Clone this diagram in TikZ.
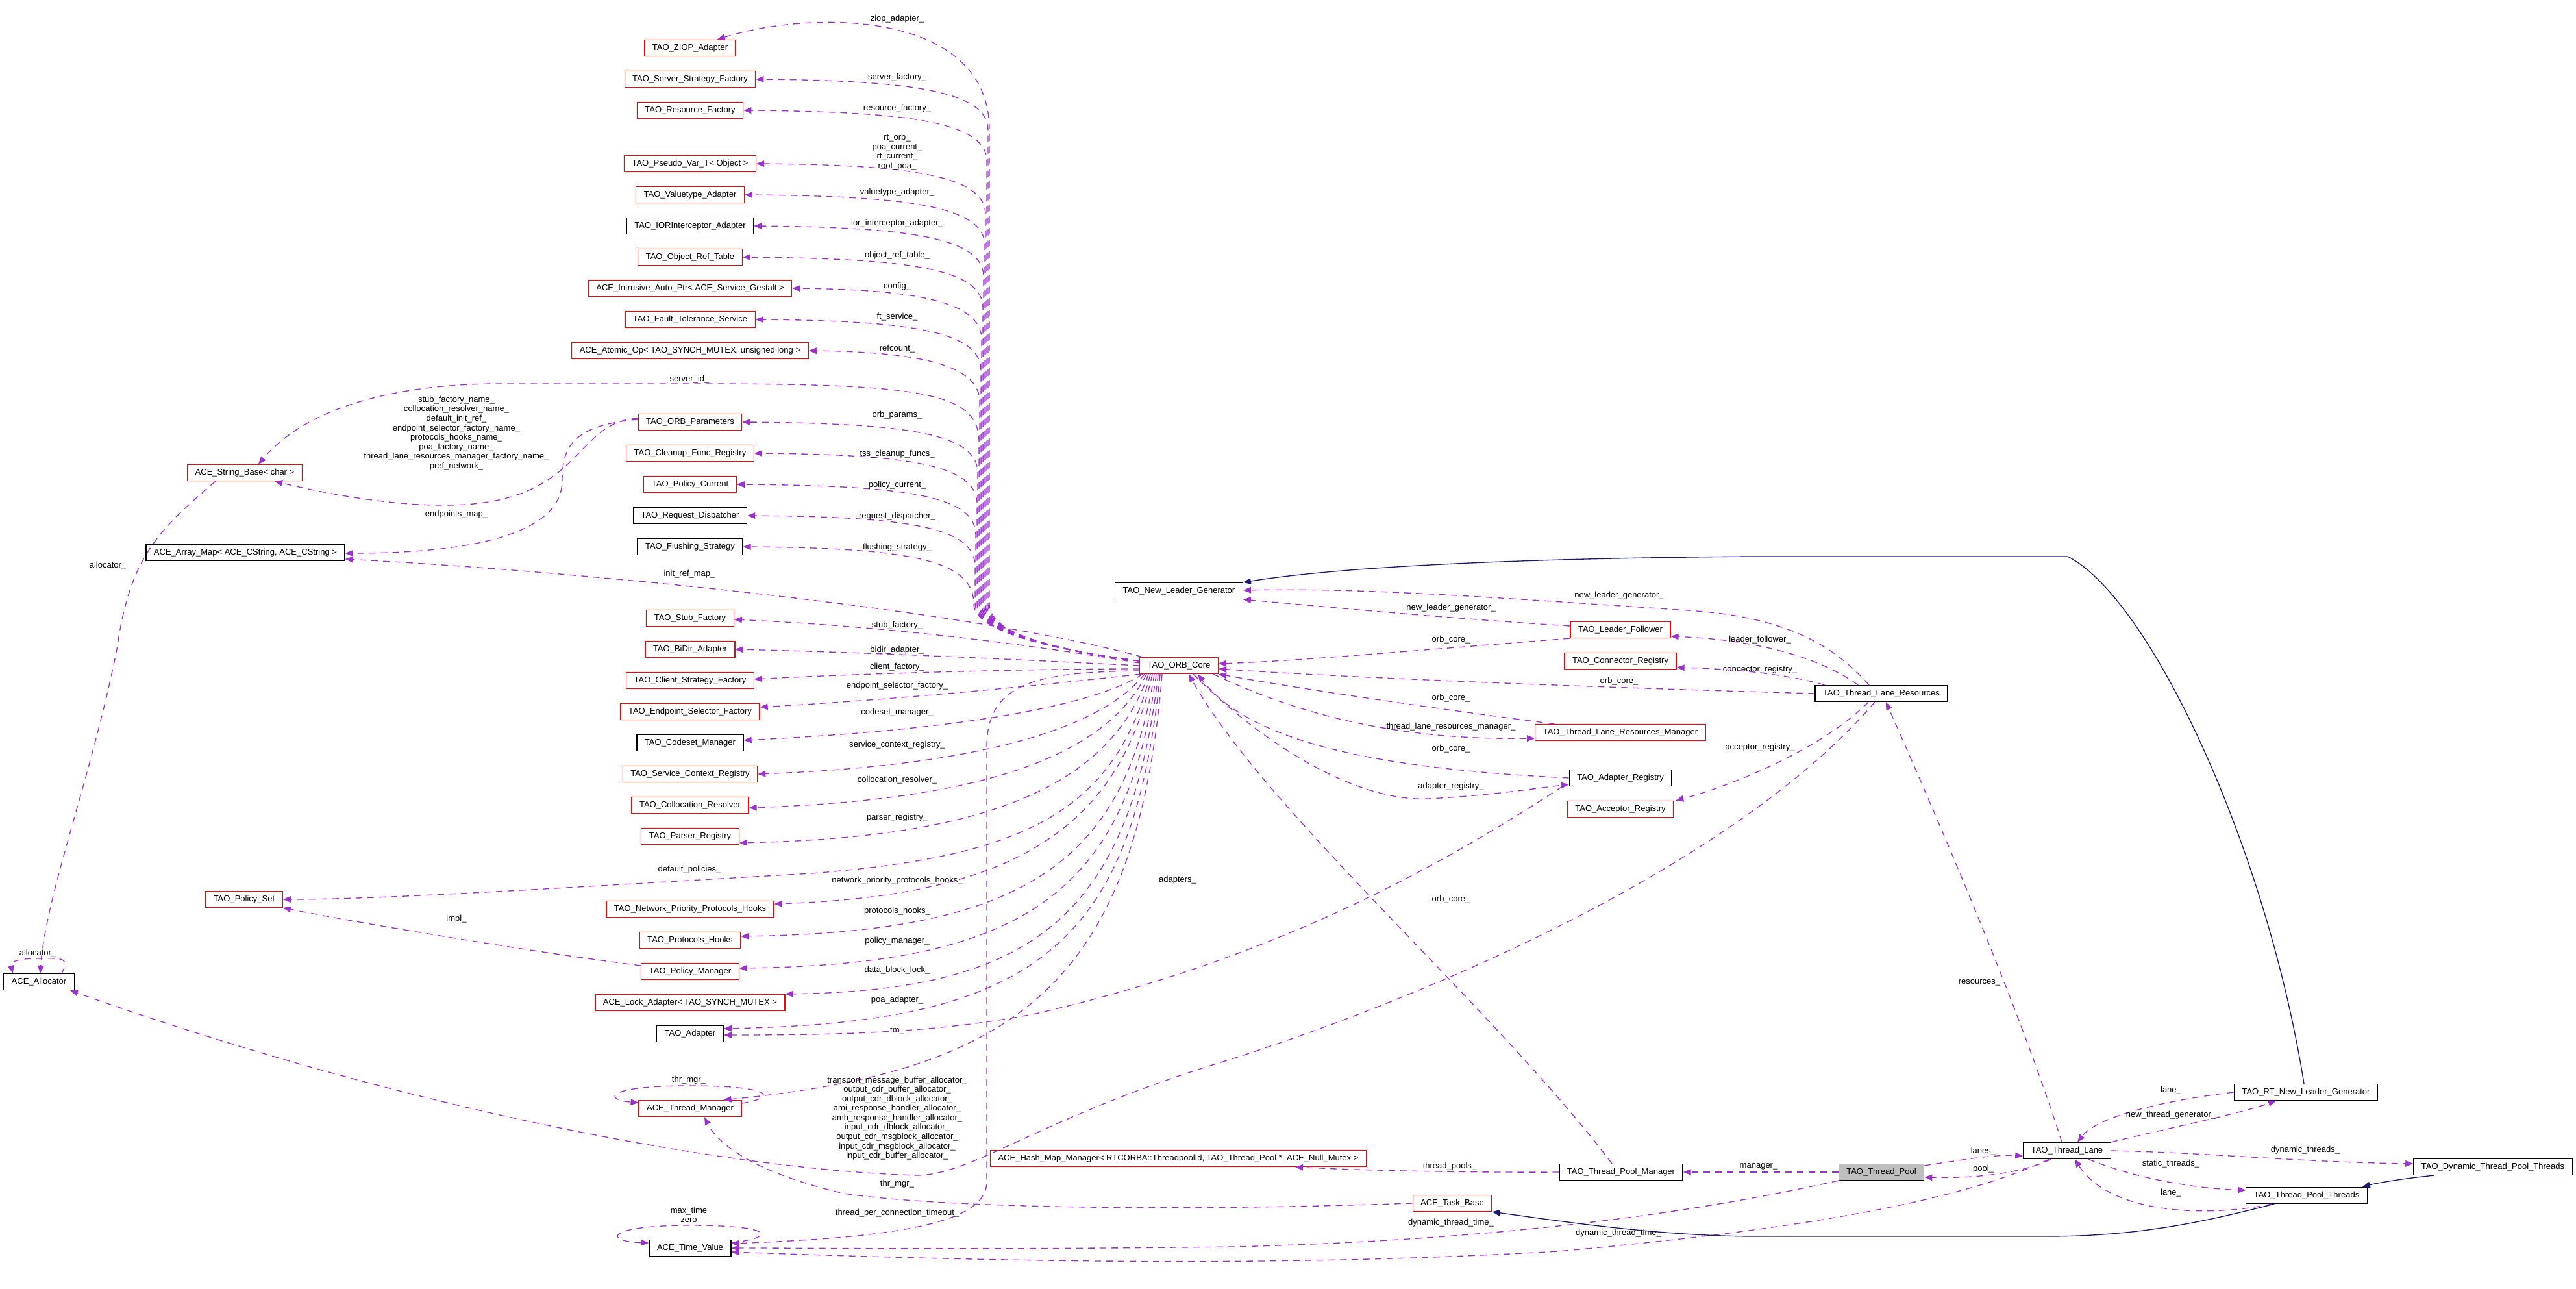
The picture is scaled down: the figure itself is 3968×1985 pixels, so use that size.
\documentclass[tikz,border=0pt]{standalone}
\usepackage{fontspec}
\newfontfamily\dxsans{Liberation Sans}
\usepackage{xcolor}
\usepackage{tikz}
\usetikzlibrary{arrows.meta, calc}
\definecolor{dxpurple}{HTML}{9A32CD}
\definecolor{dxnavy}{HTML}{191970}
\newcommand{\dxfont}{\dxsans\fontsize{3.7pt}{4.15pt}\selectfont}
\tikzset{
  cls/.style={draw=black, line width=0.35pt, fill=white, inner xsep=0.12cm, inner ysep=0pt, minimum height=0.25cm, font=\dxfont},
  redcls/.style={cls, draw=red},
  curcls/.style={cls, fill=black!25},
  lbl/.style={font=\dxfont, align=center, inner sep=0pt},
  use/.style={draw=dxpurple, line width=0.38pt, dash pattern=on 0.1cm off 0.08cm, -{Triangle[length=0.12cm,width=0.095cm]}},
  inh/.style={draw=dxnavy, line width=0.38pt, -{Triangle[length=0.12cm,width=0.095cm]}}
}
\begin{document}
\begin{tikzpicture}[x=0.01cm, y=-0.01cm]
        \useasboundingbox (0,0) rectangle (3968,1985);

        % left column
        \node[redcls] (ziop) at (1063,74) {TAO\_ZIOP\_Adapter};
        \node[redcls] (ssf) at (1063,122) {TAO\_Server\_Strategy\_Factory};
        \node[redcls] (rf) at (1063,170) {TAO\_Resource\_Factory};
        \node[redcls] (pvt) at (1063,252) {TAO\_Pseudo\_Var\_T< Object >};
        \node[redcls] (vta) at (1063,300) {TAO\_Valuetype\_Adapter};
        \node[cls] (iora) at (1063,348) {TAO\_IORInterceptor\_Adapter};
        \node[redcls] (ort) at (1063,396) {TAO\_Object\_Ref\_Table};
        \node[redcls] (iap) at (1063,444) {ACE\_Intrusive\_Auto\_Ptr< ACE\_Service\_Gestalt >};
        \node[redcls] (fts) at (1063,492) {TAO\_Fault\_Tolerance\_Service};
        \node[redcls] (aop) at (1063,540) {ACE\_Atomic\_Op< TAO\_SYNCH\_MUTEX, unsigned long >};
        \node[redcls] (orbp) at (1063,650) {TAO\_ORB\_Parameters};
        \node[redcls] (cfr) at (1063,698) {TAO\_Cleanup\_Func\_Registry};
        \node[redcls] (pc) at (1063,746) {TAO\_Policy\_Current};
        \node[cls] (rd) at (1063,794) {TAO\_Request\_Dispatcher};
        \node[cls] (fs) at (1063,842) {TAO\_Flushing\_Strategy};
        \node[redcls] (sf) at (1063,952) {TAO\_Stub\_Factory};
        \node[redcls] (bidir) at (1063,1000) {TAO\_BiDir\_Adapter};
        \node[redcls] (csf) at (1063,1048) {TAO\_Client\_Strategy\_Factory};
        \node[redcls] (esf) at (1063,1096) {TAO\_Endpoint\_Selector\_Factory};
        \node[cls] (csm) at (1063,1144) {TAO\_Codeset\_Manager};
        \node[redcls] (scr) at (1063,1192) {TAO\_Service\_Context\_Registry};
        \node[redcls] (cr) at (1063,1240) {TAO\_Collocation\_Resolver};
        \node[redcls] (pr) at (1063,1288) {TAO\_Parser\_Registry};
        \node[redcls] (npph) at (1063,1400) {TAO\_Network\_Priority\_Protocols\_Hooks};
        \node[redcls] (ph) at (1063,1448) {TAO\_Protocols\_Hooks};
        \node[redcls] (pm) at (1063,1496) {TAO\_Policy\_Manager};
        \node[redcls] (la) at (1063,1544) {ACE\_Lock\_Adapter< TAO\_SYNCH\_MUTEX >};
        \node[cls] (ada) at (1063,1592) {TAO\_Adapter};
        \node[redcls] (thm) at (1063,1707) {ACE\_Thread\_Manager};
        \node[cls] (tv) at (1063,1922) {ACE\_Time\_Value};

        % far left
        \node[redcls] (sb) at (377,728) {ACE\_String\_Base< char >};
        \node[cls] (am) at (378,851) {ACE\_Array\_Map< ACE\_CString, ACE\_CString >};
        \node[redcls] (ps) at (376,1385) {TAO\_Policy\_Set};
        \node[cls] (alloc) at (60,1512) {ACE\_Allocator};

        % middle and right
        \node[redcls] (orb) at (1816,1025) {TAO\_ORB\_Core};
        \node[cls] (nlg) at (1816,910) {TAO\_New\_Leader\_Generator};
        \node[redcls] (lf) at (2496,970) {TAO\_Leader\_Follower};
        \node[redcls] (cnr) at (2496,1018) {TAO\_Connector\_Registry};
        \node[redcls] (tlrm) at (2496,1128) {TAO\_Thread\_Lane\_Resources\_Manager};
        \node[cls] (areg) at (2496,1198) {TAO\_Adapter\_Registry};
        \node[redcls] (acr) at (2496,1246) {TAO\_Acceptor\_Registry};
        \node[cls] (tlr) at (2898,1068) {TAO\_Thread\_Lane\_Resources};
        \node[redcls] (hmm) at (1815,1784) {ACE\_Hash\_Map\_Manager< RTCORBA::ThreadpoolId, TAO\_Thread\_Pool *, ACE\_Null\_Mutex >};
        \node[cls] (tpm) at (2497,1805) {TAO\_Thread\_Pool\_Manager};
        \node[curcls] (tp) at (2898,1805) {TAO\_Thread\_Pool};
        \node[redcls] (tb) at (2237,1853) {ACE\_Task\_Base};
        \node[cls] (tl) at (3184,1772) {TAO\_Thread\_Lane};
        \node[cls] (rtnlg) at (3552,1682) {TAO\_RT\_New\_Leader\_Generator};
        \node[cls] (dtpt) at (3840,1797) {TAO\_Dynamic\_Thread\_Pool\_Threads};
        \node[cls] (tpt) at (3553,1841) {TAO\_Thread\_Pool\_Threads};

        % ORB core members, upper bundle
        \draw[use] ($(orb.north west)+(0,6)$) .. controls (1580,995) and (1524,965) .. (1524,930) -- (1524,200) .. controls (1524,15) and (1250,15) .. ($(ziop.north east)+(-29,0)$);
        \draw[use] ($(orb.north west)+(0,6)$) .. controls (1580,995) and (1522,965) .. (1522,930) -- (1522,200) .. controls (1522,140) and (1400,124) .. (ssf.east);
        \draw[use] ($(orb.north west)+(0,6)$) .. controls (1580,995) and (1520,965) .. (1520,930) -- (1520,248) .. controls (1520,188) and (1400,172) .. (rf.east);
        \draw[use] ($(orb.north west)+(0,6)$) .. controls (1580,995) and (1518,965) .. (1518,930) -- (1518,330) .. controls (1518,270) and (1400,254) .. (pvt.east);
        \draw[use] ($(orb.north west)+(0,6)$) .. controls (1580,995) and (1517,965) .. (1517,930) -- (1517,378) .. controls (1517,318) and (1400,302) .. (vta.east);
        \draw[use] ($(orb.north west)+(0,6)$) .. controls (1580,995) and (1515,965) .. (1515,930) -- (1515,426) .. controls (1515,366) and (1400,350) .. (iora.east);
        \draw[use] ($(orb.north west)+(0,6)$) .. controls (1580,995) and (1514,965) .. (1514,930) -- (1514,474) .. controls (1514,414) and (1400,398) .. (ort.east);
        \draw[use] ($(orb.north west)+(0,6)$) .. controls (1580,995) and (1512,965) .. (1512,930) -- (1512,522) .. controls (1512,462) and (1400,446) .. (iap.east);
        \draw[use] ($(orb.north west)+(0,6)$) .. controls (1580,995) and (1511,965) .. (1511,930) -- (1511,570) .. controls (1511,510) and (1400,494) .. (fts.east);
        \draw[use] ($(orb.north west)+(0,6)$) .. controls (1580,995) and (1509,965) .. (1509,930) -- (1509,618) .. controls (1509,558) and (1400,542) .. (aop.east);
        \draw[use] ($(orb.north west)+(0,6)$) .. controls (1580,995) and (1508,965) .. (1508,930) -- (1508,680) .. controls (1508,605) and (1420,592) .. (1100,591) -- (760,591) .. controls (600,593) and (470,630) .. ($(sb.north)+(21,0)$);
        \draw[use] ($(orb.north west)+(0,6)$) .. controls (1580,995) and (1506,965) .. (1506,930) -- (1506,728) .. controls (1506,668) and (1400,652) .. (orbp.east);
        \draw[use] ($(orb.north west)+(0,6)$) .. controls (1580,995) and (1505,965) .. (1505,930) -- (1505,776) .. controls (1505,716) and (1400,700) .. (cfr.east);
        \draw[use] ($(orb.north west)+(0,6)$) .. controls (1580,995) and (1503,965) .. (1503,930) -- (1503,824) .. controls (1503,764) and (1400,748) .. (pc.east);
        \draw[use] ($(orb.north west)+(0,6)$) .. controls (1580,995) and (1502,965) .. (1502,930) -- (1502,872) .. controls (1502,812) and (1400,796) .. (rd.east);
        \draw[use] ($(orb.north west)+(0,6)$) .. controls (1580,995) and (1500,965) .. (1500,930) .. controls (1500,862) and (1400,844) .. (fs.east);
        \draw[use] ($(orb.north west)+(5,0)$) .. controls (1500,940) and (900,880) .. ($(am.east)+(0,10)$);

        % ORB core members, lower fan
        \draw[use] ($(orb.west)+(0,-4)$) .. controls (1600,995) and (1380,965) .. ($(sf.east)+(0,2)$);
        \draw[use] (orb.west) .. controls (1550,1015) and (1350,1005) .. (bidir.east);
        \draw[use] ($(orb.west)+(0,5)$) .. controls (1600,1030) and (1350,1036) .. ($(csf.east)+(0,-2)$);
        \draw[use] ($(orb.south west)+(2,0)$) .. controls (1650,1050) and (1420,1075) .. ($(esf.east)+(0,-7)$);
        \draw[use] ($(orb.south west)+(5,0)$) .. controls (1680,1090) and (1460,1125) .. ($(csm.east)+(0,-4)$);
        \draw[use] ($(orb.south west)+(8,0)$) .. controls (1690,1130) and (1480,1180) .. (scr.east);
        \draw[use] ($(orb.south west)+(11,0)$) .. controls (1700,1170) and (1500,1232) .. ($(cr.east)+(0,4)$);
        \draw[use] ($(orb.south west)+(14,0)$) .. controls (1710,1210) and (1520,1290) .. ($(pr.east)+(0,10)$);
        \draw[use] ($(orb.south west)+(17,0)$) .. controls (1715,1260) and (1560,1320) .. (1250,1345) .. controls (900,1365) and (600,1385) .. (ps.east);
        \draw[use] ($(orb.south west)+(20,0)$) .. controls (1720,1290) and (1540,1380) .. ($(npph.east)+(0,-8)$);
        \draw[use] ($(orb.south west)+(23,0)$) .. controls (1730,1340) and (1560,1435) .. ($(ph.east)+(0,-6)$);
        \draw[use] ($(orb.south west)+(26,0)$) .. controls (1735,1380) and (1570,1485) .. ($(pm.east)+(0,-5)$);
        \draw[use] ($(orb.south west)+(29,0)$) .. controls (1740,1420) and (1580,1525) .. (la.north east);
        \draw[use] ($(orb.south west)+(32,0)$) .. controls (1745,1460) and (1590,1575) .. ($(ada.east)+(0,-8)$);
        \draw[use] ($(orb.south west)+(35,0)$) .. controls (1750,1520) and (1560,1650) .. ($(thm.north east)+(-28,0)$);
        \draw[use] ($(orb.west)+(0,8)$) .. controls (1600,1035) and (1520,1050) .. (1520,1150) -- (1520,1820) .. controls (1520,1880) and (1400,1905) .. ($(tv.east)+(0,-7)$);

        % far left members
        \draw[use] ($(orbp.west)+(0,-6)$) .. controls (880,650) and (900,780) .. (680,778) .. controls (600,778) and (500,760) .. ($(sb.south)+(46,0)$);
        \draw[use] ($(orbp.west)+(0,-4)$) .. controls (880,655) and (866,690) .. (866,740) .. controls (866,830) and (700,852) .. ($(am.east)+(0,1)$);
        \draw[use] ($(sb.south)+(-45,0)$) .. controls (240,820) and (200,860) .. (180,1000) .. controls (140,1200) and (70,1380) .. ($(alloc.north)+(2,0)$);
        \draw[use] ($(alloc.north east)+(-20,0)$) .. controls (110,1472) and (90,1476) .. (58,1476) .. controls (25,1476) and (15,1482) .. ($(alloc.north west)+(15,0)$);
        \draw[use] ($(pm.west)+(0,-9)$) .. controls (850,1470) and (600,1430) .. (ps.south east);
        \draw[use] ($(thm.east)+(0,-8)$) .. controls (1200,1690) and (1190,1672) .. (1062,1672) .. controls (930,1672) and (930,1694) .. ($(thm.west)+(0,-9)$);
        \draw[use] ($(tv.east)+(0,-8)$) .. controls (1200,1905) and (1190,1887) .. (1064,1887) .. controls (930,1887) and (930,1912) .. ($(tv.west)+(0,-8)$);
        \draw[use] (tb.west) .. controls (1800,1866) and (1450,1860) .. (1300,1838) .. controls (1180,1810) and (1110,1770) .. ($(thm.south)+(22,0)$);

        % leader / lane resources
        \draw[use] ($(lf.west)+(0,-6)$) .. controls (2200,950) and (2050,935) .. (nlg.south east);
        \draw[use] (lf.south west) .. controls (2200,1000) and (2000,1018) .. ($(orb.east)+(0,-3)$);
        \draw[use] ($(tlr.north)+(-19,0)$) .. controls (2830,1000) and (2760,950) .. (2600,940) .. controls (2300,920) and (2100,905) .. ($(nlg.east)+(0,-1)$);
        \draw[use] ($(tlr.north)+(-36,0)$) .. controls (2800,1010) and (2700,985) .. ($(lf.east)+(0,10)$);
        \draw[use] ($(tlr.north west)+(15,0)$) .. controls (2760,1040) and (2680,1030) .. ($(cnr.east)+(0,10)$);
        \draw[use] (tlr.west) .. controls (2500,1060) and (2100,1045) .. ($(orb.east)+(0,5)$);
        \draw[use] ($(tlr.south)+(-20,0)$) .. controls (2800,1160) and (2650,1215) .. ($(acr.north east)+(3,0)$);
        \draw[use] ($(tlr.south)+(-10,0)$) .. controls (2700,1300) and (2300,1500) .. (1900,1630) .. controls (1600,1720) and (1500,1810) .. (1411,1810) .. controls (1100,1800) and (600,1700) .. ($(alloc.south east)+(-7,0)$);
        \draw[use] ($(tlrm.north west)+(30,0)$) .. controls (2200,1090) and (2000,1060) .. (orb.south east);
        \draw[use] ($(orb.south east)+(-8,0)$) .. controls (2000,1100) and (2150,1140) .. ($(tlrm.west)+(0,9)$);
        \draw[use] (areg.west) .. controls (2150,1185) and (1930,1150) .. ($(orb.south)+(29,0)$);
        \draw[use] ($(orb.south)+(22,0)$) .. controls (1960,1160) and (2100,1235) .. (2200,1230) .. controls (2300,1225) and (2380,1212) .. ($(areg.south west)+(0,-3)$);
        \draw[use] ($(areg.south west)+(-10,0)$) .. controls (2150,1380) and (1900,1490) .. (1600,1560) .. controls (1450,1590) and (1300,1594) .. ($(ada.east)+(0,2)$);

        % thread pool part
        \draw[use] ($(tpm.north)+(-14,0)$) .. controls (2300,1550) and (1950,1250) .. ($(orb.south)+(15,0)$);
        \draw[use] (tpm.west) .. controls (2200,1806) and (2050,1800) .. ($(hmm.south)+(180,0)$);
        \draw[use] (tp.west) -- (tpm.east);
        \draw[use] ($(tp.north east)+(0,3)$) .. controls (3030,1785) and (3070,1778) .. ($(tl.west)+(0,8)$);
        \draw[use] ($(tl.south)+(-25,0)$) .. controls (3120,1805) and (3050,1815) .. ($(tp.east)+(0,8)$);
        \draw[use] (rtnlg.west) .. controls (3330,1695) and (3230,1720) .. ($(tl.north)+(16,0)$);
        \draw[use] (tl.north east) .. controls (3350,1735) and (3450,1715) .. ($(rtnlg.south)+(-46,0)$);
        \draw[use] (tl.east) .. controls (3400,1775) and (3550,1790) .. ($(dtpt.west)+(0,-5)$);
        \draw[use] ($(tl.south)+(33,0)$) .. controls (3290,1815) and (3380,1830) .. ($(tpt.west)+(0,-8)$);
        \draw[use] ($(tpt.south west)+(40,0)$) .. controls (3400,1875) and (3250,1870) .. ($(tl.south)+(12,0)$);
        \draw[use] ($(tl.north)+(-8,0)$) .. controls (3110,1550) and (2980,1250) .. ($(tlr.south)+(7,0)$);
        \draw[use] (tp.south west) .. controls (2600,1870) and (2300,1910) .. (1900,1920) .. controls (1500,1925) and (1300,1922) .. (tv.east);
        \draw[use] ($(tl.south west)+(40,0)$) .. controls (3000,1860) and (2700,1900) .. (2400,1927) .. controls (2000,1950) and (1600,1945) .. ($(tv.east)+(0,6)$);

        % inheritance
        \draw[inh] ($(rtnlg.north)+(-3,0)$) .. controls (3490,1300) and (3310,920) .. (3185,857) -- (2700,857) .. controls (2300,860) and (2050,875) .. (nlg.north east);
        \draw[inh] ($(dtpt.south west)+(32,0)$) .. controls (3700,1815) and (3660,1822) .. ($(tpt.north east)+(-8,0)$);
        \draw[inh] ($(tpt.south west)+(44,0)$) .. controls (3400,1880) and (3300,1904) .. (3150,1904) -- (2700,1904) .. controls (2550,1903) and (2400,1880) .. (tb.south east);

        % member labels
        \node[lbl] (lziop) at (1382,29) {ziop\_adapter\_};
        \node[lbl] (lssf) at (1382,119) {server\_factory\_};
        \node[lbl] (lrf) at (1382,167) {resource\_factory\_};
        \node[lbl] (lpvt) at (1382,234) {rt\_orb\_\\poa\_current\_\\rt\_current\_\\root\_poa\_};
        \node[lbl] (lvta) at (1382,296) {valuetype\_adapter\_};
        \node[lbl] (liora) at (1382,344) {ior\_interceptor\_adapter\_};
        \node[lbl] (lort) at (1382,393) {object\_ref\_table\_};
        \node[lbl] (liap) at (1382,441) {config\_};
        \node[lbl] (lfts) at (1382,488) {ft\_service\_};
        \node[lbl] (laop) at (1382,537) {refcount\_};
        \node[lbl] (lsid) at (1062,584) {server\_id\_};
        \node[lbl] (lorbp) at (1382,639) {orb\_params\_};
        \node[lbl] (lcfr) at (1382,699) {tss\_cleanup\_funcs\_};
        \node[lbl] (lpc) at (1382,747) {policy\_current\_};
        \node[lbl] (lrd) at (1382,795) {request\_dispatcher\_};
        \node[lbl] (lfs) at (1382,843) {flushing\_strategy\_};
        \node[lbl] (lam) at (1062,884) {init\_ref\_map\_};
        \node[lbl] (lsf) at (1382,963) {stub\_factory\_};
        \node[lbl] (lbidir) at (1382,1001) {bidir\_adapter\_};
        \node[lbl] (lcsf) at (1382,1027) {client\_factory\_};
        \node[lbl] (lesf) at (1382,1056) {endpoint\_selector\_factory\_};
        \node[lbl] (lcsm) at (1382,1097) {codeset\_manager\_};
        \node[lbl] (lscr) at (1382,1147) {service\_context\_registry\_};
        \node[lbl] (lcr) at (1382,1201) {collocation\_resolver\_};
        \node[lbl] (lpr) at (1382,1259) {parser\_registry\_};
        \node[lbl] (lps) at (1062,1339) {default\_policies\_};
        \node[lbl] (lnpph) at (1382,1356) {network\_priority\_protocols\_hooks\_};
        \node[lbl] (lph) at (1382,1403) {protocols\_hooks\_};
        \node[lbl] (lpm) at (1382,1449) {policy\_manager\_};
        \node[lbl] (lla) at (1382,1494) {data\_block\_lock\_};
        \node[lbl] (lada) at (1382,1540) {poa\_adapter\_};
        \node[lbl] (ltm) at (1382,1588) {tm\_};
        \node[lbl] (lthmself) at (1061,1663) {thr\_mgr\_};
        \node[lbl] (lalloc) at (1382,1722) {transport\_message\_buffer\_allocator\_\\output\_cdr\_buffer\_allocator\_\\output\_cdr\_dblock\_allocator\_\\ami\_response\_handler\_allocator\_\\amh\_response\_handler\_allocator\_\\input\_cdr\_dblock\_allocator\_\\output\_cdr\_msgblock\_allocator\_\\input\_cdr\_msgblock\_allocator\_\\input\_cdr\_buffer\_allocator\_};
        \node[lbl] (ltb) at (1382,1823) {thr\_mgr\_};
        \node[lbl] (ltvself) at (1061,1871) {max\_time\\zero};
        \node[lbl] (ltpct) at (1382,1868) {thread\_per\_connection\_timeout\_};
        \node[lbl] (lorbpsb) at (703,667) {stub\_factory\_name\_\\collocation\_resolver\_name\_\\default\_init\_ref\_\\endpoint\_selector\_factory\_name\_\\protocols\_hooks\_name\_\\poa\_factory\_name\_\\thread\_lane\_resources\_manager\_factory\_name\_\\pref\_network\_};
        \node[lbl] (lepm) at (703,792) {endpoints\_map\_};
        \node[lbl] (lsballoc) at (166,871) {allocator\_};
        \node[lbl] (lallocself) at (58,1468) {allocator\_};
        \node[lbl] (limpl) at (703,1415) {impl\_};
        \node[lbl] (ladapters) at (1814,1355) {adapters\_};
        \node[lbl] (ltpmorb) at (2235,1385) {orb\_core\_};
        \node[lbl] (lnlg1) at (2494,917) {new\_leader\_generator\_};
        \node[lbl] (lnlg2) at (2235,936) {new\_leader\_generator\_};
        \node[lbl] (llforb) at (2235,985) {orb\_core\_};
        \node[lbl] (ltlrorb) at (2494,1049) {orb\_core\_};
        \node[lbl] (ltlrmorb) at (2235,1075) {orb\_core\_};
        \node[lbl] (ltlrm) at (2235,1119) {thread\_lane\_resources\_manager\_};
        \node[lbl] (laregorb) at (2235,1153) {orb\_core\_};
        \node[lbl] (lareg) at (2235,1211) {adapter\_registry\_};
        \node[lbl] (llf) at (2711,985) {leader\_follower\_};
        \node[lbl] (lcnr) at (2711,1031) {connector\_registry\_};
        \node[lbl] (lacr) at (2711,1151) {acceptor\_registry\_};
        \node[lbl] (lres) at (3049,1513) {resources\_};
        \node[lbl] (lpools) at (2233,1796) {thread\_pools\_};
        \node[lbl] (lmgr) at (2709,1796) {manager\_};
        \node[lbl] (ldtt1) at (2235,1883) {dynamic\_thread\_time\_};
        \node[lbl] (ldtt2) at (2493,1899) {dynamic\_thread\_time\_};
        \node[lbl] (llane1) at (3344,1679) {lane\_};
        \node[lbl] (lntg) at (3344,1717) {new\_thread\_generator\_};
        \node[lbl] (llanes) at (3055,1773) {lanes\_};
        \node[lbl] (lpool) at (3055,1800) {pool\_};
        \node[lbl] (ldyn) at (3551,1771) {dynamic\_threads\_};
        \node[lbl] (lstat) at (3344,1792) {static\_threads\_};
        \node[lbl] (llane2) at (3344,1837) {lane\_};
\end{tikzpicture}
\end{document}
